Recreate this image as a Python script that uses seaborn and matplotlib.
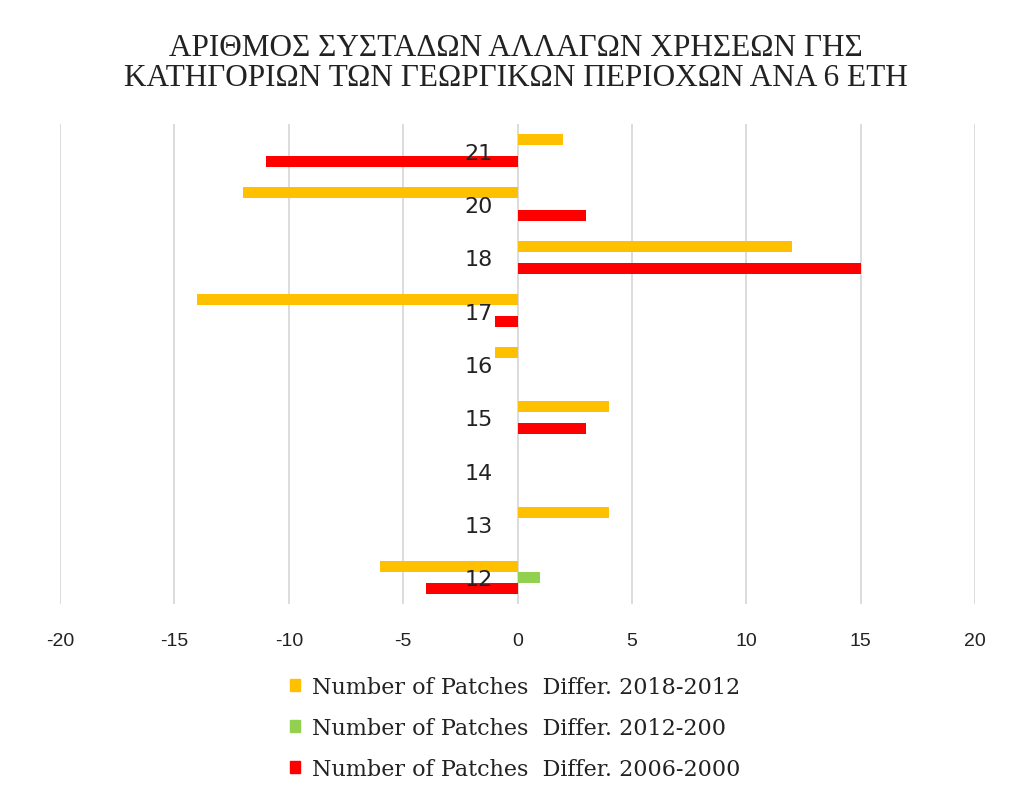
import numpy as np
import pandas as pd
import matplotlib
matplotlib.use("Agg")
import matplotlib.pyplot as plt
import seaborn as sns

# Κατηγορίες (από πάνω προς τα κάτω)
categories = ["21", "20", "18", "17", "16", "15", "14", "13", "12"]

series_names = ["Number of Patches  Differ. 2018-2012",
                "Number of Patches  Differ. 2012-200",
                "Number of Patches  Differ. 2006-2000"]

diff_2018_2012 = [2, -12, 12, -14, -1, 4, 0, 4, -6]
diff_2012_2000 = [0, 0, 0, 0, 0, 0, 0, 0, 1]
diff_2006_2000 = [-11, 3, 15, -1, 0, 3, 0, 0, -4]

colors = ["#FFC000", "#92D050", "#FF0000"]

# Dataframe em formato longo
df = pd.DataFrame({
    "cat": categories * 3,
    "serie": np.repeat(series_names, len(categories)),
    "valor": diff_2018_2012 + diff_2012_2000 + diff_2006_2000,
})

sns.set_style("white")
plt.rcParams["axes.unicode_minus"] = False

fig = plt.figure(figsize=(10.31, 8.03), dpi=100)
ax = fig.add_axes([0.0582, 0.2466, 0.8875, 0.5977])

sns.barplot(data=df, y="cat", x="valor", hue="serie", order=categories,
            hue_order=series_names, palette=colors, saturation=1, orient="h",
            width=0.63, linewidth=0, ax=ax, legend=False)

ax.set_xlim(-20, 20)
ax.set_ylim(len(categories) - 0.5, -0.5)
ax.set_xticks(range(-20, 21, 5))
ax.grid(axis="x", color="#d9d9d9", linewidth=1.3)
ax.grid(axis="y", visible=False)
ax.xaxis.set_zorder(0.5)
ax.yaxis.set_zorder(5)

for s in ["top", "right", "bottom"]:
    ax.spines[s].set_visible(False)
# eixo y cruzando no zero, rótulos junto ao eixo
ax.spines["left"].set_position(("data", 0))
ax.spines["left"].set_visible(False)

ax.tick_params(axis="y", length=0, pad=18, labelsize=16, labelcolor="#222222")
ax.tick_params(axis="x", length=0, pad=20, labelsize=14, labelcolor="#222222")
for t in ax.get_yticklabels():
    t.set_family("DejaVu Sans")
for t in ax.get_xticklabels():
    t.set_family("Liberation Sans")

ax.set_xlabel("")
ax.set_ylabel("")

# Título
fig.text(0.5, 0.921, "ΑΡΙΘΜΟΣ ΣΥΣΤΑΔΩΝ ΑΛΛΑΓΩΝ ΧΡΗΣΕΩΝ ΓΗΣ\nΚΑΤΗΓΟΡΙΩΝ ΤΩΝ ΓΕΩΡΓΙΚΩΝ ΠΕΡΙΟΧΩΝ ΑΝΑ 6 ΕΤΗ",
         ha="center", va="center", fontsize=22.5, family="Liberation Serif",
         color="#222222", linespacing=1.03)

# Legenda
handles = [plt.Rectangle((0, 0), 1, 1, color=c) for c in colors]
fig.legend(handles, series_names, loc="upper left", bbox_to_anchor=(0.281, 0.157),
           frameon=False, borderpad=0, borderaxespad=0,
           prop={"family": "DejaVu Serif", "size": 16},
           labelspacing=0.86, handlelength=0.45, handleheight=0.45, handletextpad=0.55,
           labelcolor="#222222")

fig.savefig("out.png", dpi=100)
